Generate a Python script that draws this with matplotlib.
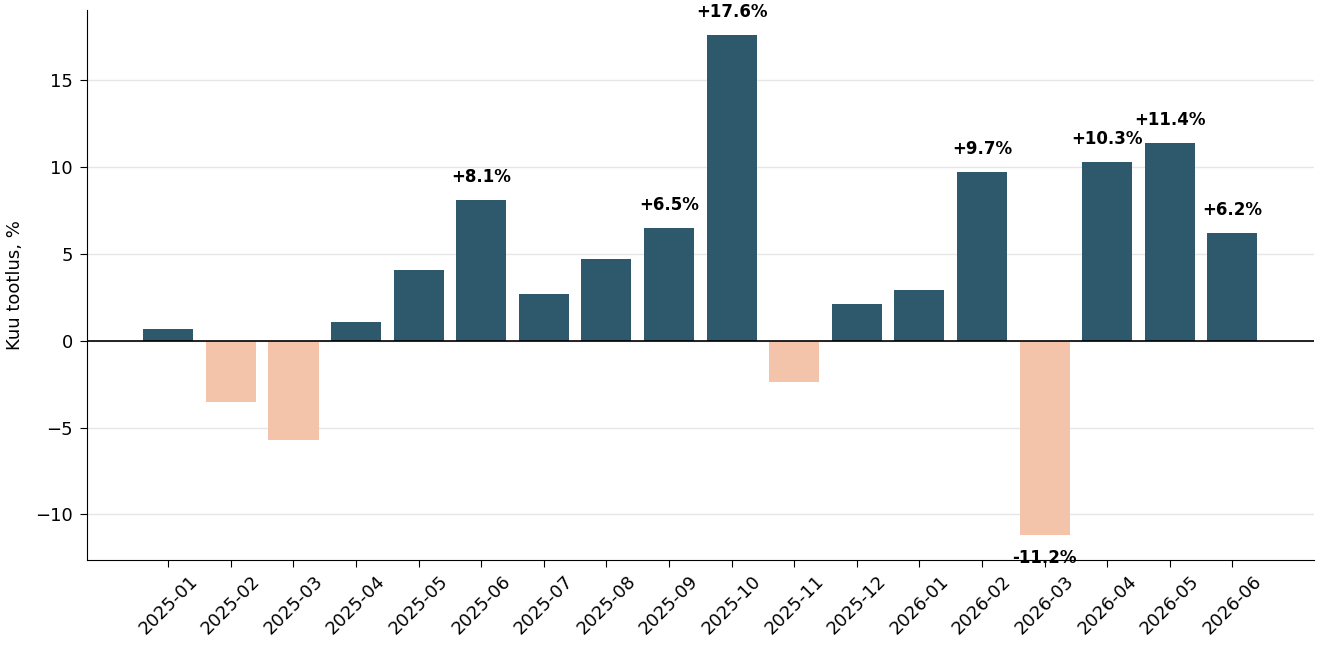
import matplotlib.pyplot as plt
import numpy as np

months = ["2025-01", "2025-02", "2025-03", "2025-04", "2025-05", "2025-06",
          "2025-07", "2025-08", "2025-09", "2025-10", "2025-11", "2025-12",
          "2026-01", "2026-02", "2026-03", "2026-04", "2026-05", "2026-06"]
returns = [0.7, -3.5, -5.7, 1.1, 4.1, 8.1,
           2.7, 4.7, 6.5, 17.6, -2.4, 2.1,
           2.9, 9.7, -11.2, 10.3, 11.4, 6.2]

pos_color = "#2e586b"
neg_color = "#f4c4aa"

fig, ax = plt.subplots(figsize=(13.27, 6.54), dpi=100)

x = np.arange(len(months))
colors = [pos_color if v >= 0 else neg_color for v in returns]
ax.bar(x, returns, width=0.8, color=colors, zorder=2)

# label only the bigger moves
for xi, v in zip(x, returns):
    if abs(v) < 6:
        continue
    if v > 0:
        ax.text(xi, v + 0.8, f"+{v:.1f}%", ha="center", va="bottom",
                fontsize=12, fontweight="bold")
    else:
        ax.text(xi, v - 0.8, f"{v:.1f}%", ha="center", va="top",
                fontsize=12, fontweight="bold")

ax.axhline(0, color="black", lw=1.2, zorder=3)
ax.grid(axis="y", color="#e6e6e6", lw=1, zorder=0)
ax.set_axisbelow(True)

ax.set_xticks(x)
ax.set_xticklabels(months, rotation=45, fontsize=13)
ax.tick_params(axis="y", labelsize=13, pad=5)
ax.tick_params(length=5)
ax.set_xlim(-1.3, 18.3)
ax.set_ylim(-12.65, 19.05)
ax.set_yticks([-10, -5, 0, 5, 10, 15])
ax.set_ylabel("Kuu tootlus, %", fontsize=13, labelpad=8)

for s in ["top", "right"]:
    ax.spines[s].set_visible(False)

fig.subplots_adjust(left=0.0655, right=0.99, top=0.985, bottom=0.143)
fig.savefig("out.png", dpi=100)
